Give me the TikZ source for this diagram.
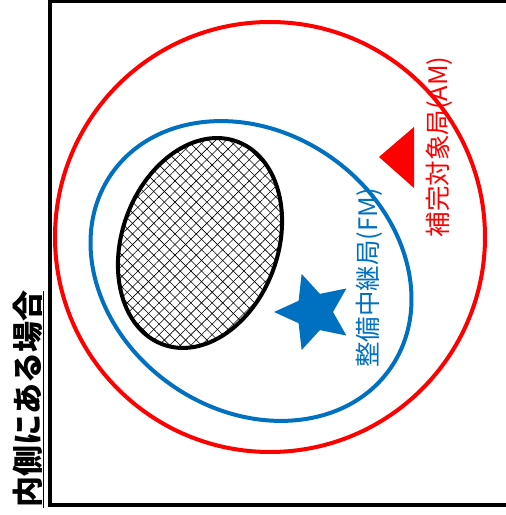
\documentclass[tikz,border=0pt]{standalone}
\usepackage{fontspec}
\setmainfont{Noto Sans CJK JP}
\usetikzlibrary{shapes.geometric,patterns.meta}
\definecolor{amred}{RGB}{255,0,0}
\definecolor{fmblue}{RGB}{0,112,192}
\begin{document}
\begin{tikzpicture}[x=1pt,y=1pt,
  ring/.style={line width=4pt},
  vlabel/.style={rotate=90,inner sep=0pt,font=\fontsize{25.5}{26}\selectfont},
  headline/.style={rotate=90,inner sep=0pt,anchor=base west,font=\fontsize{31}{31}\selectfont\bfseries}]
\useasboundingbox (0,0) rectangle (506,515);
\clip (0,0) rectangle (506,515);
\node[headline] (h2) at (39,7) {\underline{内側にある場合}};
\draw[line width=4pt] (50,10) rectangle (540,513.5);

\draw[ring,amred] (270,278) circle (215);
\draw[ring,fmblue,rotate around={-35:(251,244)}] (251,244) ellipse (170 and 139);

\node[ellipse,minimum width=156,minimum height=216,inner sep=0pt,rotate=-20,
  pattern={Lines[angle=45,distance=7.5pt,line width=0.6pt]}] (area) at (200,272) {};
\node[ellipse,minimum width=156,minimum height=216,inner sep=0pt,rotate=-20,line width=4pt,draw,
  pattern={Lines[angle=-45,distance=7.5pt,line width=0.6pt]}] at (area) {};

\node[star,star points=5,star point ratio=2.1,minimum size=80pt,inner sep=0pt,
  fill=fmblue,shape border rotate=90] (relay) at (314,203) {};
\fill[amred] (379,358) -- (414,388) -- (414,327) -- cycle;

\node[vlabel,text=amred] (amlabel) at (439,368) {補完対象局(AM)};
\node[vlabel,text=fmblue] (fmlabel) at (369,237) {整備中継局(FM)};
\end{tikzpicture}
\end{document}
